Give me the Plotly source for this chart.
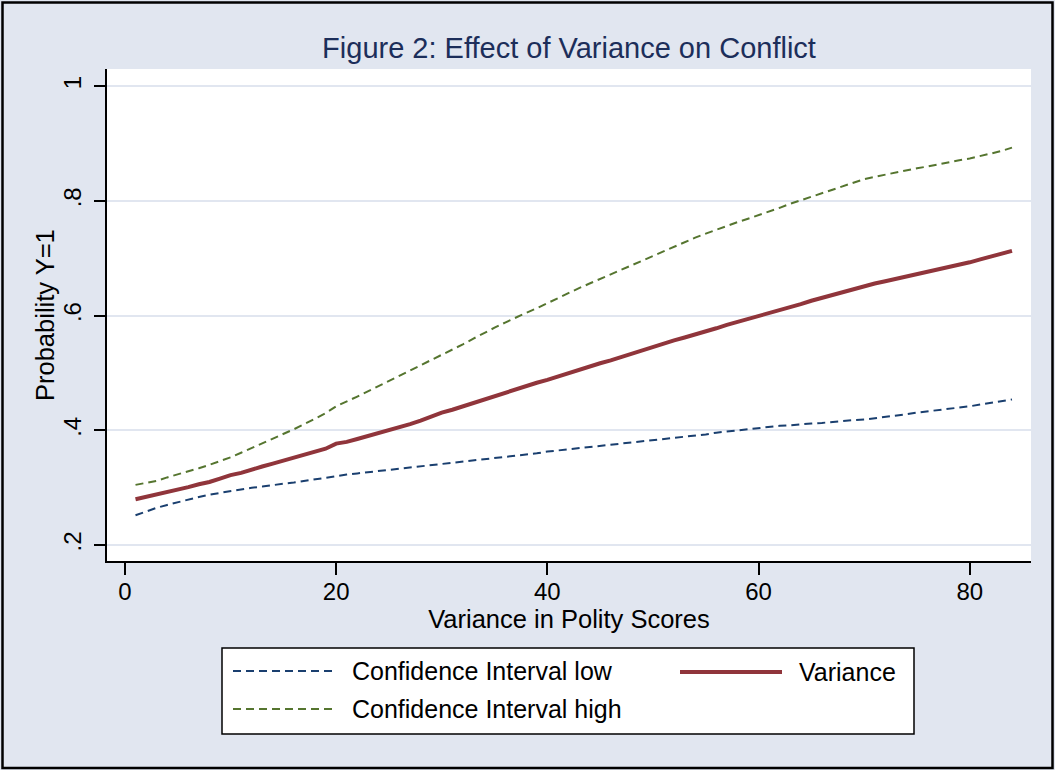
import plotly.graph_objects as go

# ---- data ----
x_values = list(range(1, 85))

variance = [0.280, 0.284, 0.288, 0.293, 0.297, 0.301, 0.306, 0.310, 0.316, 0.322,
            0.326, 0.332, 0.337, 0.342, 0.347, 0.352, 0.357, 0.362, 0.368, 0.377,
            0.380, 0.385, 0.390, 0.395, 0.400, 0.405, 0.411, 0.417, 0.424, 0.431,
            0.436, 0.442, 0.448, 0.454, 0.460, 0.465, 0.471, 0.477, 0.483, 0.488,
            0.494, 0.500, 0.506, 0.511, 0.517, 0.522, 0.528, 0.534, 0.540, 0.546,
            0.551, 0.557, 0.562, 0.567, 0.573, 0.578, 0.584, 0.589, 0.594, 0.600,
            0.605, 0.610, 0.615, 0.620, 0.626, 0.631, 0.636, 0.641, 0.647, 0.652,
            0.656, 0.660, 0.664, 0.668, 0.672, 0.676, 0.680, 0.684, 0.689, 0.693,
            0.698, 0.703, 0.708, 0.713]

ci_high = [0.305, 0.308, 0.312, 0.318, 0.323, 0.328, 0.334, 0.340, 0.346, 0.353,
           0.361, 0.369, 0.377, 0.385, 0.393, 0.402, 0.411, 0.420, 0.430, 0.442,
           0.450, 0.459, 0.468, 0.477, 0.486, 0.495, 0.504, 0.513, 0.522, 0.531,
           0.540, 0.550, 0.560, 0.570, 0.579, 0.588, 0.597, 0.605, 0.613, 0.622,
           0.630, 0.639, 0.648, 0.656, 0.664, 0.672, 0.681, 0.689, 0.697, 0.705,
           0.712, 0.720, 0.728, 0.736, 0.743, 0.750, 0.757, 0.763, 0.769, 0.775,
           0.781, 0.788, 0.795, 0.801, 0.807, 0.813, 0.819, 0.825, 0.831, 0.838,
           0.842, 0.846, 0.850, 0.853, 0.857, 0.860, 0.864, 0.867, 0.871, 0.874,
           0.878, 0.882, 0.887, 0.893]

ci_low = [0.252, 0.259, 0.265, 0.270, 0.275, 0.280, 0.284, 0.288, 0.291, 0.295,
          0.298, 0.300, 0.302, 0.305, 0.307, 0.309, 0.312, 0.315, 0.318, 0.321,
          0.323, 0.325, 0.327, 0.329, 0.331, 0.333, 0.335, 0.337, 0.339, 0.341,
          0.343, 0.345, 0.347, 0.349, 0.351, 0.354, 0.356, 0.358, 0.360, 0.363,
          0.365, 0.367, 0.369, 0.371, 0.373, 0.375, 0.377, 0.378, 0.380, 0.382,
          0.384, 0.386, 0.389, 0.391, 0.393, 0.396, 0.398, 0.400, 0.403, 0.405,
          0.406, 0.408, 0.409, 0.411, 0.412, 0.413, 0.415, 0.416, 0.418, 0.419,
          0.421, 0.424, 0.426, 0.428, 0.431, 0.433, 0.435, 0.437, 0.440, 0.442,
          0.445, 0.448, 0.451, 0.454]

x_ticks = [0, 20, 40, 60, 80]
y_ticks = [0.2, 0.4, 0.6, 0.8, 1.0]
y_tick_labels = [".2", ".4", ".6", ".8", "1"]

series_names = ["Confidence Interval low", "Variance", "Confidence Interval high"]

# ---- styling ----
W, H = 1055, 770
ML, MR, MT, MB = 107, 24, 69, 209
BG = "#E1E6F0"
NAVY = "#1A3F6F"
MAROON = "#90353B"
GREEN = "#55752F"
FONT = "Liberation Sans, Arial, sans-serif"

fig = go.Figure()
fig.add_trace(go.Scatter(x=x_values, y=ci_low, mode="lines", name=series_names[0],
                         line=dict(color=NAVY, width=2, dash="8px,5px"), showlegend=False))
fig.add_trace(go.Scatter(x=x_values, y=variance, mode="lines", name=series_names[1],
                         line=dict(color=MAROON, width=4), showlegend=False))
fig.add_trace(go.Scatter(x=x_values, y=ci_high, mode="lines", name=series_names[2],
                         line=dict(color=GREEN, width=2, dash="8px,5px"), showlegend=False))

pw = W - ML - MR
ph = H - MT - MB


def px(xp):
    return (xp - ML) / pw


def py(yp):
    return (H - MB - yp) / ph


shapes = []
annotations = []

# outer border
shapes.append(dict(type="rect", xref="paper", yref="paper", x0=px(2.5), x1=px(1052.5),
                   y0=py(2.5), y1=py(768), line=dict(color="black", width=2.5),
                   fillcolor="rgba(0,0,0,0)", layer="above"))

# legend box (drawn manually to match the wide Stata legend keys)
shapes.append(dict(type="rect", xref="paper", yref="paper", x0=px(222), x1=px(914),
                   y0=py(648), y1=py(734), line=dict(color="black", width=1.5),
                   fillcolor="white", layer="above"))
legend_items = [
    (series_names[0], NAVY, 1.8, "dash", 233, 334, 671, 350),
    (series_names[2], GREEN, 1.8, "dash", 233, 334, 709, 350),
    (series_names[1], MAROON, 4, "solid", 680, 782, 672, 797),
]
for name, color, width, dash, x0, x1, yy, tx in legend_items:
    shapes.append(dict(type="line", xref="paper", yref="paper", x0=px(x0), x1=px(x1),
                       y0=py(yy), y1=py(yy),
                       line=dict(color=color, width=width, dash="8px,5px" if dash == "dash" else "solid"),
                       layer="above"))
    annotations.append(dict(xref="paper", yref="paper", x=px(tx), y=py(yy), text=name,
                            showarrow=False, xanchor="left", yanchor="middle",
                            font=dict(family=FONT, size=25, color="black")))

# y axis title placed explicitly
annotations.append(dict(xref="paper", yref="paper", x=px(45), y=py(315), text="Probability Y=1",
                        textangle=-90, showarrow=False, xanchor="center", yanchor="middle",
                        font=dict(family=FONT, size=25.5, color="black")))

fig.update_layout(
    width=W, height=H,
    margin=dict(l=ML, r=MR, t=MT, b=MB, autoexpand=False),
    paper_bgcolor=BG,
    plot_bgcolor="white",
    font=dict(family=FONT, color="black"),
    title=dict(text="Figure 2: Effect of Variance on Conflict", x=(ML + pw / 2) / W,
               xanchor="center", y=1 - 48 / H, yanchor="middle", yref="container",
               font=dict(family=FONT, size=29, color="#1C2E5A")),
    xaxis=dict(range=[-1.7, 85.8], tickvals=x_ticks, ticks="outside", ticklen=12,
               tickwidth=2, tickcolor="black", showline=True, linecolor="black",
               linewidth=2, showgrid=False, zeroline=False, ticklabelstandoff=-4,
               tickfont=dict(family=FONT, size=24, color="black"),
               title=dict(text="Variance in Polity Scores", standoff=5,
                          font=dict(family=FONT, size=25.5, color="black"))),
    yaxis=dict(range=[0.1723, 1.030], tickvals=y_ticks, ticktext=y_tick_labels,
               tickangle=-90, ticks="outside", ticklen=11, tickwidth=2,
               tickcolor="black", showline=True, linecolor="black", linewidth=2,
               showgrid=True, gridcolor=BG, gridwidth=1.5, zeroline=False,
               ticklabelstandoff=3,
               tickfont=dict(family=FONT, size=24, color="black")),
    shapes=shapes,
    annotations=annotations,
)

fig.write_html("out.html", config={"displayModeBar": False},
               post_script="document.body.style.margin='0';document.body.style.padding='0';")
